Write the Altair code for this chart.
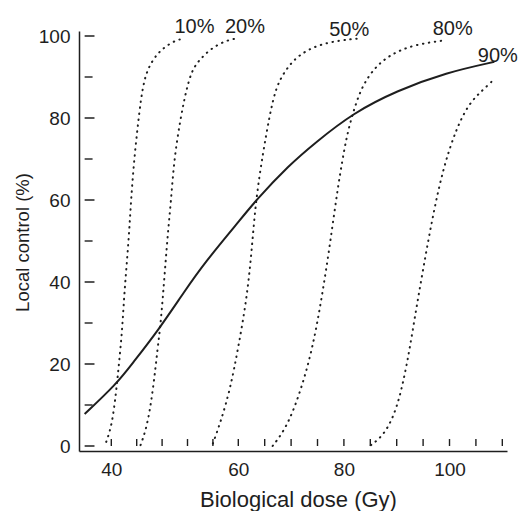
import altair as alt
import pandas as pd

# Population dose-response curve (solid)
solid_dose = [35.8, 40.8, 43.3, 47.3, 51.6, 54.7, 59.8, 63.3, 69.6, 74.6, 81.7, 90.1, 99.4, 108.5]
solid_ctrl = [7.8, 15.1, 20.1, 28.0, 37.9, 44.7, 54.2, 59.9, 68.5, 74.0, 81.2, 86.7, 91.1, 93.7]

# Individual-tumour dose-response curves (dotted)
d10_dose = [39.2, 40.1, 40.8, 41.2, 41.7, 42.0, 42.4, 42.8, 43.1, 43.6, 44.3, 45.1, 46.6, 48.1, 50.1, 51.6]
d10_ctrl = [1.0, 5.0, 13.7, 20.0, 28.0, 36.0, 43.9, 51.8, 59.8, 70.0, 80.0, 89.9, 94.5, 97.0, 99.0, 99.4]

d20_dose = [44.6, 44.8, 45.8, 46.7, 47.3, 47.7, 48.1, 48.5, 48.9, 49.4, 49.9, 50.9, 51.9, 52.7, 53.7, 55.7, 58.2, 59.8]
d20_ctrl = [0.2, 1.0, 5.8, 15.3, 24.0, 28.8, 36.0, 43.9, 51.8, 59.8, 70.0, 80.0, 87.5, 91.5, 93.9, 97.0, 99.0, 99.4]

d50_dose = [56.0, 57.2, 58.7, 60.0, 61.6, 62.5, 63.3, 64.7, 65.9, 67.1, 69.0, 71.5, 75.2, 79.5, 83.0]
d50_ctrl = [0.6, 5.8, 13.7, 24.0, 36.0, 47.0, 59.9, 71.7, 80.4, 87.5, 91.9, 95.5, 97.9, 99.0, 99.4]

d80_dose = [66.5, 69.0, 71.5, 74.0, 75.8, 77.4, 78.9, 80.5, 81.7, 83.3, 85.8, 88.8, 93.2, 99.4]
d80_ctrl = [0.0, 4.2, 12.1, 23.3, 36.0, 49.5, 63.7, 75.6, 81.2, 87.5, 92.3, 95.5, 97.9, 99.0]

d90_dose = [85.1, 87.6, 90.1, 92.0, 93.5, 95.1, 96.9, 98.8, 101.2, 103.7, 106.2, 108.5]
d90_ctrl = [0.2, 2.6, 9.0, 20.1, 32.0, 43.9, 56.6, 67.7, 77.2, 83.6, 86.7, 89.5]

# Curve labels
label_text = ["10%", "20%", "50%", "80%", "90%"]
label_dose = [53.1, 61.25, 81.0, 100.6, 109.15]
label_ctrl = [100.7, 100.7, 99.9, 100.2, 93.6]

# Axis ticks
x_ticks = [40, 44, 48, 52, 56, 60, 65, 70, 75, 80, 85, 90, 95, 100, 105, 110]
x_labels = [40, 60, 80, 100]
y_major = [0, 20, 40, 60, 80, 100]
y_minor = [10, 30, 50, 70, 90]

W, H = 428, 420
X_MIN = 35.8
INK = "#1e1e1e"
FONT = "Liberation Sans"

solid = pd.DataFrame({"dose": solid_dose, "ctrl": solid_ctrl})
dotted = pd.concat([
    pd.DataFrame({"dose": d, "ctrl": c, "curve": name})
    for name, d, c in [("10%", d10_dose, d10_ctrl), ("20%", d20_dose, d20_ctrl),
                       ("50%", d50_dose, d50_ctrl), ("80%", d80_dose, d80_ctrl),
                       ("90%", d90_dose, d90_ctrl)]
])
labels = pd.DataFrame({"text": label_text, "dose": label_dose, "ctrl": label_ctrl})
xt = pd.DataFrame({"dose": [float(v) for v in x_ticks]})
ymaj = pd.DataFrame({"ctrl": [float(v) for v in y_major]})
ymin = pd.DataFrame({"ctrl": [float(v) for v in y_minor]})

# Dose axis is drawn piecewise: 40-60 and 60-110 have different spacing
x_scale = alt.Scale(domain=[X_MIN, 60, 110], range=[0, 159.3, W], nice=False, zero=False)
y_scale = alt.Scale(domain=[0, 100], nice=False)

x_enc = alt.X("dose:Q", scale=x_scale, title="Biological dose (Gy)",
              axis=alt.Axis(values=x_labels, ticks=False, tickSize=0, grid=False,
                            labelPadding=9, labelFontSize=19, labelFont=FONT,
                            labelColor=INK, domainColor=INK, domainWidth=1.5,
                            titleFontSize=22, titleFont=FONT, titleColor=INK,
                            titleFontWeight="normal", titleX=219, titleY=55,
                            titleBaseline="alphabetic", titleAlign="center"))
y_enc = alt.Y("ctrl:Q", scale=y_scale, title="Local control (%)",
              axis=alt.Axis(values=y_major, ticks=False, tickSize=0, grid=False,
                            labelPadding=9, labelFontSize=19, labelFont=FONT,
                            labelColor=INK, domainColor=INK, domainWidth=1.5,
                            titleFontSize=18.5, titleFont=FONT, titleColor=INK,
                            titleFontWeight="normal", titleAngle=270, titleX=-51,
                            titleY=211, titleBaseline="alphabetic", titleAlign="center"))

solid_layer = alt.Chart(solid).mark_line(color=INK, strokeWidth=2, interpolate="basis").encode(
    x=x_enc, y=y_enc)

dotted_layer = alt.Chart(dotted).mark_line(
    color=INK, strokeWidth=2, strokeDash=[0.5, 5.5], strokeCap="round", interpolate="basis"
).encode(x="dose:Q", y="ctrl:Q", detail="curve:N")

label_layer = alt.Chart(labels).mark_text(
    fontSize=20, font=FONT, color=INK, align="center", baseline="alphabetic"
).encode(x="dose:Q", y="ctrl:Q", text="text:N")

# Inward tick marks as thin filled bars: x ticks ~7 px tall, y ticks ~10 px / ~8 px long
xt_layer = alt.Chart(xt).mark_bar(color=INK, size=1.4, orient="vertical").encode(
    x="dose:Q", y=alt.datum(0), y2=alt.datum(1.7))
ymaj_layer = alt.Chart(ymaj).mark_bar(color=INK, size=1.4, orient="horizontal").encode(
    y="ctrl:Q", x=alt.datum(X_MIN), x2=alt.datum(X_MIN + 1.55))
ymin_layer = alt.Chart(ymin).mark_bar(color=INK, size=1.4, orient="horizontal").encode(
    y="ctrl:Q", x=alt.datum(X_MIN), x2=alt.datum(X_MIN + 1.25))

chart = alt.layer(
    solid_layer, dotted_layer, xt_layer, ymaj_layer, ymin_layer, label_layer
).properties(
    width=W, height=H,
    autosize=alt.AutoSizeParams(type="none"),
    padding={"left": 79, "top": 31, "right": 19, "bottom": 60},
    background="white",
).configure_view(stroke=None)

chart.save("out.html", embed_options={"renderer": "svg", "actions": False})
